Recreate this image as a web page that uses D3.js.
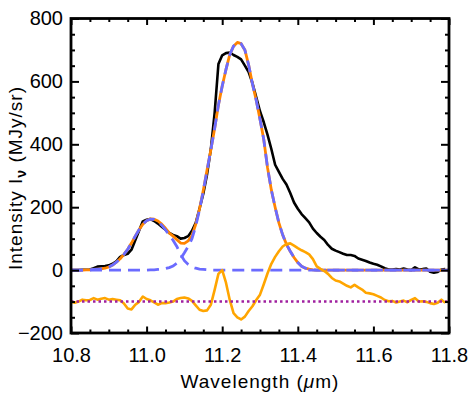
<!DOCTYPE html>
<html><head><meta charset="utf-8">
<script src="https://cdn.jsdelivr.net/npm/d3@7"></script>
<style>body{margin:0;background:#fff}svg{display:block}</style>
</head><body>
<svg id="chart" width="472" height="393"></svg>
<script>
const wavelength = [
10.80,10.81,10.82,10.83,10.84,10.85,10.86,10.87,10.88,10.89,
10.90,10.91,10.92,10.93,10.94,10.95,10.96,10.97,10.98,10.99,
11.00,11.01,11.02,11.03,11.04,11.05,11.06,11.07,11.08,11.09,
11.10,11.11,11.12,11.13,11.14,11.15,11.16,11.17,11.18,11.19,
11.20,11.21,11.22,11.23,11.24,11.25,11.26,11.27,11.28,11.29,
11.30,11.31,11.32,11.33,11.34,11.35,11.36,11.37,11.38,11.39,
11.40,11.41,11.42,11.43,11.44,11.45,11.46,11.47,11.48,11.49,
11.50,11.51,11.52,11.53,11.54,11.55,11.56,11.57,11.58,11.59,
11.60,11.61,11.62,11.63,11.64,11.65,11.66,11.67,11.68,11.69,
11.70,11.71,11.72,11.73,11.74,11.75,11.76,11.77,11.78,11.79,
11.80];

const observed = [
0,0,0,1,1,2,6,11,12,13,
15,20,28,42,48,52,65,95,125,155,
160,162,156,148,138,128,118,112,108,100,
102,108,125,150,195,243,305,385,500,655,
683,690,692,684,678,670,650,630,595,550,
505,470,430,385,335,312,290,272,245,215,
195,178,165,152,132,118,106,96,80,68,
62,57,52,48,48,45,37,33,29,24,
20,17,12,6,2,2,3,2,5,2,
0,9,2,3,5,-5,-8,-6,2,3,
null];

const fitTotal = [
0,0,0,0,1,1,2,3,4,6,
10,16,25,36,50,66,86,108,128,146,
157,163,162,156,146,133,118,108,97,86,
85,93,110,146,195,254,319,383,450,525,
585,638,685,712,724,720,700,652,592,540,
480,415,325,255,200,150,112,82,60,40,
24,12,6,3,1,0,0,0,0,0,
0,0,0,0,0,0,0,0,0,0,
0,0,0,0,0,0,0,0,0,0,
0,0,0,0,0,0,0,0,0,0,
0];

const component1 = [
0,0,0,0,1,1,2,3,4,6,
10,16,25,36,50,66,86,108,128,146,
157,162,161,154,143,128,110,95,75,50,
30,18,10,6,3,2,1,0,0,0,
0,0,0,0,0,0,0,0,0,0,
0,0,0,0,0,0,0,0,0,0,
0,0,0,0,0,0,0,0,0,0,
0,0,0,0,0,0,0,0,0,0,
0,0,0,0,0,0,0,0,0,0,
0,0,0,0,0,0,0,0,0,0,
0];

const component2 = [
0,0,0,0,0,0,0,0,0,0,
0,0,0,0,0,0,0,0,0,0,
0,1,1,2,3,5,8,13,22,36,
55,75,100,140,192,252,318,383,450,525,
585,638,685,712,724,720,700,652,592,540,
480,415,325,255,200,150,112,82,60,40,
24,12,6,3,1,0,0,0,0,0,
0,0,0,0,0,0,0,0,0,0,
0,0,0,0,0,0,0,0,0,0,
0,0,0,0,0,0,0,0,0,0,
0];

const residual = [
-100,-104,-100,-94,-96,-95,-89,-94,-91,-89,
-94,-92,-94,-96,-106,-122,-125,-110,-101,-84,
-92,-96,-103,-110,-105,-105,-103,-100,-92,-89,
-87,-90,-98,-112,-126,-130,-128,-110,-63,-12,
0,-40,-95,-137,-150,-157,-148,-130,-115,-95,
-78,-45,-10,20,42,60,75,83,85,78,
70,63,57,50,35,12,4,-3,-12,-25,
-33,-36,-43,-50,-55,-47,-55,-62,-72,-74,
-77,-82,-87,-95,-99,-98,-103,-100,-97,-102,
-95,-89,-100,-99,-101,-105,-108,-104,-94,-104,
null];

const residualOffset = -100;
const xMajorTicks = [10.8, 11.0, 11.2, 11.4, 11.6, 11.8];
const xMinorTicks = [10.85,10.9,10.95,11.05,11.1,11.15,11.25,11.3,11.35,11.45,11.5,11.55,11.65,11.7,11.75];
const yMajorTicks = [-200, 0, 200, 400, 600, 800];
const yMinorTicks = [-150,-100,-50,50,100,150,250,300,350,450,500,550,650,700,750];

const FONT = "'Liberation Sans', Arial, Helvetica, sans-serif";
const svg = d3.select("#chart");
const L = 71, R = 449, T = 18.5, B = 333;
const x = d3.scaleLinear().domain([10.8, 11.8]).range([L, R]);
const y = d3.scaleLinear().domain([-200, 800]).range([B, T]);

svg.append("defs").append("clipPath").attr("id", "clip")
  .append("rect").attr("x", L).attr("y", T).attr("width", R - L).attr("height", B - T);

const plot = svg.append("g").attr("clip-path", "url(#clip)");

const line = d3.line()
  .defined(d => d[1] !== null)
  .x(d => x(d[0])).y(d => y(d[1]));
const pts = arr => wavelength.map((w, i) => [w, arr[i]]);

plot.append("path").attr("d", line(pts(observed)))
  .attr("fill", "none").attr("stroke", "#000").attr("stroke-width", 2.6)
  .attr("stroke-linejoin", "round");

plot.append("path").attr("d", line(pts(fitTotal)))
  .attr("fill", "none").attr("stroke", "#ff8400").attr("stroke-width", 2.8)
  .attr("stroke-linejoin", "round");

[component1, component2].forEach(c => {
  plot.append("path").attr("d", line(pts(c)))
    .attr("fill", "none").attr("stroke", "#6b6bff").attr("stroke-width", 2.8)
    .attr("stroke-dasharray", "12,7");
});

plot.append("path").attr("d", line(pts(residual)))
  .attr("fill", "none").attr("stroke", "#ffa500").attr("stroke-width", 2.6)
  .attr("stroke-linejoin", "round");

plot.append("path").attr("d", line([[10.8, residualOffset], [11.8, residualOffset]]))
  .attr("fill", "none").attr("stroke", "#a020a0").attr("stroke-width", 2.6)
  .attr("stroke-dasharray", "2.5,3");

function styleAxis(g, labels) {
  g.select(".domain").remove();
  g.selectAll(".tick line").attr("stroke", "#000").attr("stroke-width", 2);
  if (!labels) g.selectAll(".tick text").remove();
  else g.selectAll(".tick text").attr("fill", "#000").style("font-family", FONT).style("font-size", "20px");
}
const fmtX = d3.format(".1f");
svg.append("g").attr("transform", `translate(0,${B})`)
  .call(d3.axisBottom(x).tickValues(xMajorTicks).tickSize(-6.5).tickPadding(15).tickFormat(fmtX))
  .call(g => styleAxis(g, true));
svg.append("g").attr("transform", `translate(0,${B})`)
  .call(d3.axisBottom(x).tickValues(xMinorTicks).tickSize(-3.5).tickFormat(""))
  .call(g => styleAxis(g, false));
svg.append("g").attr("transform", `translate(0,${T})`)
  .call(d3.axisTop(x).tickValues(xMajorTicks).tickSize(-6.5).tickFormat(""))
  .call(g => styleAxis(g, false));
svg.append("g").attr("transform", `translate(0,${T})`)
  .call(d3.axisTop(x).tickValues(xMinorTicks).tickSize(-3.5).tickFormat(""))
  .call(g => styleAxis(g, false));

svg.append("g").attr("transform", `translate(${L},0)`)
  .call(d3.axisLeft(y).tickValues(yMajorTicks).tickSize(-8).tickPadding(8).tickFormat(d => d < 0 ? "\u2212" + Math.abs(d) : d))
  .call(g => styleAxis(g, true));
svg.append("g").attr("transform", `translate(${L},0)`)
  .call(d3.axisLeft(y).tickValues(yMinorTicks).tickSize(-4).tickFormat(""))
  .call(g => styleAxis(g, false));
svg.append("g").attr("transform", `translate(${R},0)`)
  .call(d3.axisRight(y).tickValues(yMajorTicks).tickSize(-8).tickFormat(""))
  .call(g => styleAxis(g, false));
svg.append("g").attr("transform", `translate(${R},0)`)
  .call(d3.axisRight(y).tickValues(yMinorTicks).tickSize(-4).tickFormat(""))
  .call(g => styleAxis(g, false));

svg.append("rect").attr("x", L).attr("y", T).attr("width", R - L).attr("height", B - T)
  .attr("fill", "none").attr("stroke", "#000").attr("stroke-width", 2.8);

const xt = svg.append("text").attr("x", (L + R) / 2).attr("y", 388)
  .attr("text-anchor", "middle").style("font-family", FONT).style("font-size", "19px")
  .style("letter-spacing", "1px").attr("fill", "#000");
xt.append("tspan").text("Wavelength (");
xt.append("tspan").style("font-style", "italic").text("\u03bc");
xt.append("tspan").text("m)");

const yt = svg.append("text").attr("transform", "translate(22,178) rotate(-90)")
  .attr("text-anchor", "middle").style("font-family", FONT).style("font-size", "19px")
  .style("letter-spacing", "1px").attr("fill", "#000");
yt.append("tspan").text("Intensity I");
yt.append("tspan").attr("dy", 4).style("font-size", "14px").style("font-weight", "bold").text("\u03bd");
yt.append("tspan").attr("dy", -4).text(" (MJy/sr)");
</script>
</body></html>
